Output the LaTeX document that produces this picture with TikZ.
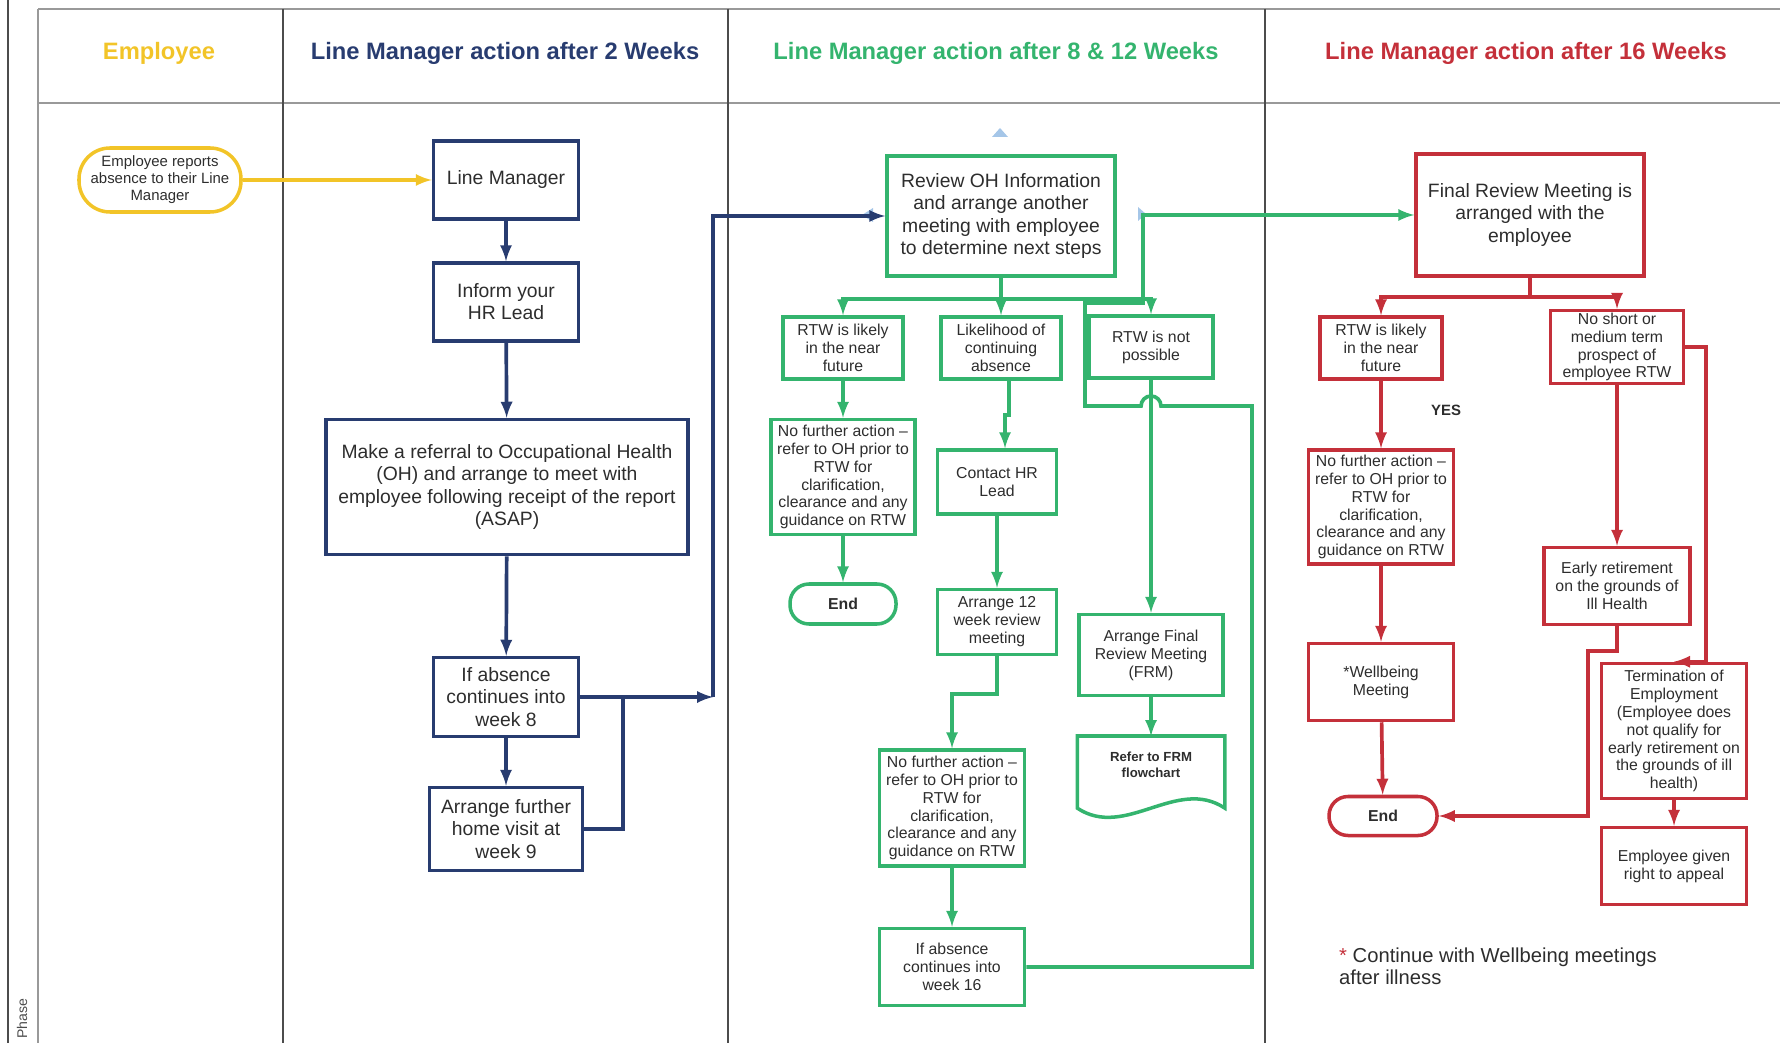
\documentclass[tikz,border=0pt]{standalone}
\usepackage{fontspec}
\setmainfont{Liberation Sans}
\usepackage{tikz}
\usepackage{xcolor}
\usetikzlibrary{calc}

\definecolor{navyc}{RGB}{40,60,112}
\definecolor{greenc}{RGB}{52,180,110}
\definecolor{redc}{RGB}{196,48,58}
\definecolor{goldc}{RGB}{242,196,40}
\definecolor{txtc}{RGB}{45,45,45}
\definecolor{handlec}{RGB}{165,198,232}

\begin{document}
\begin{tikzpicture}[x = 0.02cm, y = -0.02cm, >=latex,
        lane/.style = {draw = black!70, line width = 0.6pt},
        head/.style = {font = \fontsize{13.5}{16}\selectfont\bfseries},
        wh/.style 2 args = {minimum width = #1*0.02cm, minimum height = #2*0.02cm},
        box/.style = {rectangle, draw, line width = 2pt, align = center, inner sep = 0.5pt,
                      text = txtc, font = \fontsize{9}{10.2}\selectfont},
        bigbox/.style = {box, font = \fontsize{11}{12.6}\selectfont},
        endnode/.style = {box, rounded corners = 0.38cm, font = \fontsize{9}{10}\selectfont\bfseries},
        link/.style = {draw, line width = 2.1pt, ->}]
        \useasboundingbox (0, 0) rectangle (1780, 1043);

        % swim lanes
        \draw [lane] (8, 0) -- (8, 1043);
        \draw [lane, black!40] (38, 9) -- (38, 1043);
        \draw [lane, black!40] (38, 9) -- (1780, 9);
        \draw [lane, black!40] (38, 103) -- (1780, 103);
        \foreach \x in {283, 728, 1265}
            \draw [lane] (\x, 9) -- (\x, 1043);
        \node [rotate = 90, text = black!70, font = \fontsize{8}{9}\selectfont] (phase) at (22, 1019) {Phase};

        \node [head, text = goldc] (hemp) at (159, 53) {Employee};
        \node [head, text = navyc] (hlm2) at (505, 53) {Line Manager action after 2 Weeks};
        \node [head, text = greenc] (hlm8) at (996, 53) {Line Manager action after 8 \& 12 Weeks};
        \node [head, text = redc] (hlm16) at (1526, 53) {Line Manager action after 16 Weeks};

        % employee and 2 weeks
        \node [box, draw = goldc, rounded corners = 0.62cm, wh = {162}{64}, font = \fontsize{8.5}{9.6}\selectfont] (emp) at (160, 180) {Employee reports\\absence to their Line\\Manager};
        \node [bigbox, draw = navyc, wh = {145}{78}] (lm) at (506, 180) {Line Manager};
        \node [bigbox, draw = navyc, wh = {145}{78}] (hr) at (506, 302) {Inform your\\HR Lead};
        \node [bigbox, draw = navyc, wh = {362}{135}] (ref) at (507, 487) {Make a referral to Occupational Health\\(OH) and arrange to meet with\\employee following receipt of the report\\(ASAP)};
        \node [bigbox, draw = navyc, wh = {145}{79}] (if8) at (506, 697) {If absence\\continues into\\week 8};
        \node [bigbox, draw = navyc, wh = {153}{83}] (visit) at (506, 829) {Arrange further\\home visit at\\week 9};
        \coordinate (j1) at (713, 697);
        \coordinate (j2) at (623, 697);

        % 8 and 12 weeks
        \node [bigbox, draw = greenc, wh = {228}{120}] (review) at (1001, 216) {Review OH Information\\and arrange another\\meeting with employee\\to determine next steps};
        \node [box, draw = greenc, wh = {120}{62}] (rtwg) at (843, 348) {RTW is likely\\in the near\\future};
        \node [box, draw = greenc, wh = {120}{62}] (likely) at (1001, 348) {Likelihood of\\continuing\\absence};
        \node [box, draw = greenc, wh = {124}{62}] (notposs) at (1151, 347) {RTW is not\\possible};
        \node [box, draw = greenc, wh = {144}{115}] (nfa1) at (843, 477) {No further action –\\refer to OH prior to\\RTW for\\clarification,\\clearance and any\\guidance on RTW};
        \node [endnode, draw = greenc, wh = {106}{40}] (end1) at (843, 604) {End};
        \node [box, draw = greenc, wh = {119}{64}] (contact) at (997, 482) {Contact HR\\Lead};
        \node [box, draw = greenc, wh = {119}{65}] (arr12) at (997, 622) {Arrange 12\\week review\\meeting};
        \node [box, draw = greenc, wh = {145}{116}] (nfa2) at (952, 808) {No further action –\\refer to OH prior to\\RTW for\\clarification,\\clearance and any\\guidance on RTW};
        \node [box, draw = greenc, wh = {145}{77}] (wk16) at (952, 967) {If absence\\continues into\\week 16};
        \node [box, draw = greenc, wh = {144}{81}] (afrm) at (1151, 655) {Arrange Final\\Review Meeting\\(FRM)};
        \node [box, draw = none, wh = {144}{0}, inner ysep = 8pt, anchor = north,
               font = \fontsize{7.5}{9}\selectfont\bfseries] (frm) at (1151, 736) {Refer to FRM\\flowchart};
        \draw [greenc, line width = 2pt] (frm.north west) -- (frm.north east) -- ([yshift = -0.3cm] frm.south east)
            .. controls +(-48, -32) and +(48, 32) .. ([yshift = -0.3cm] frm.south west) -- cycle;
        \coordinate (gbus) at (1001, 299);
        \coordinate (lp1) at (1252, 406);
        \coordinate (lp2) at (1085, 406);
        \coordinate (lp3) at (1085, 303);
        \coordinate (lp4) at (1143, 303);

        % 16 weeks
        \node [bigbox, draw = redc, wh = {228}{122}] (final) at (1530, 215) {Final Review Meeting is\\arranged with the\\employee};
        \node [box, draw = redc, wh = {122}{62}] (rtwr) at (1381, 348) {RTW is likely\\in the near\\future};
        \node [box, draw = redc, wh = {133}{73}] (noshort) at (1617, 347) {No short or\\medium term\\prospect of\\employee RTW};
        \node [font = \fontsize{8.5}{10}\selectfont\bfseries, text = txtc] (yes) at (1446, 410) {YES};
        \node [box, draw = redc, wh = {145}{114}] (nfar) at (1381, 507) {No further action –\\refer to OH prior to\\RTW for\\clarification,\\clearance and any\\guidance on RTW};
        \node [box, draw = redc, wh = {145}{77}] (well) at (1381, 682) {*Wellbeing\\Meeting};
        \node [endnode, draw = redc, wh = {108}{39}] (endr) at (1383, 816) {End};
        \node [box, draw = redc, wh = {146}{77}] (early) at (1617, 586) {Early retirement\\on the grounds of\\Ill Health};
        \node [box, draw = redc, wh = {145}{135}] (term) at (1674, 731) {Termination of\\Employment\\(Employee does\\not qualify for\\early retirement on\\the grounds of ill\\health)};
        \node [box, draw = redc, wh = {145}{77}] (appeal) at (1674, 866) {Employee given\\right to appeal};
        \node [anchor = west, align = left, text = txtc, font = \fontsize{11.5}{12.6}\selectfont] (note) at (1333, 966)
            {\textcolor{redc}{*} Continue with Wellbeing meetings\\after illness};
        \coordinate (rbus) at (1530, 297);
        \coordinate (rj) at (1588, 816);

        % handles
        \fill [handlec] (992, 137) -- (1008, 137) -- (1000, 128) -- cycle;
        \fill [handlec] (862, 215) -- (873, 208) -- (873, 222) -- cycle;
        \fill [handlec] (1138, 207) -- (1146, 214) -- (1138, 221) -- cycle;

        % connectors
        \draw [link, goldc] (emp) -- (lm);
        \draw [link, navyc] (lm) -- (hr);
        \draw [link, navyc] (hr) -- (ref);
        \draw [link, navyc] (ref) -- (if8);
        \draw [link, navyc] (if8) -- (visit);
        \draw [link, navyc] (if8.east) -- (j1);
        \draw [link, navyc] (j1) |- (review.west);
        \draw [navyc, line width = 2.1pt] (visit.east) -| (j2);

        \draw [link, greenc] (review.south) -- (gbus) -| (rtwg.north);
        \draw [link, greenc] (gbus) -- (likely.north);
        \draw [link, greenc] (gbus) -| (notposs.north);
        \draw [link, greenc] (rtwg) -- (nfa1);
        \draw [link, greenc] (nfa1) -- (end1);
        \draw [link, greenc] ([xshift = 0.16cm] likely.south) -- ++(0, 34) -| ([xshift = 0.16cm] contact.north);
        \draw [link, greenc] (contact) -- (arr12);
        \draw [link, greenc] (arr12.south) -- ++(0, 38) -| (nfa2.north);
        \draw [link, greenc] (nfa2) -- (wk16);
        \draw [link, greenc] (notposs) -- (afrm);
        \draw [link, greenc] (afrm) -- (frm.north);
        \draw [link, greenc] (wk16.east) -| (lp1) -- ($(notposs.south |- lp1) + (10, 0)$)
            arc [start angle = 0, end angle = 180, radius = 0.2cm] -- (lp2) -- (lp3) -- (lp4) |- (final.west);

        \draw [link, redc] (final.south) -- (rbus) -| (rtwr.north);
        \draw [link, redc] (rbus) -| (noshort.north);
        \draw [link, redc] (rtwr) -- (nfar);
        \draw [link, redc] (nfar) -- (well);
        \draw [link, redc] (well) -- (endr);
        \draw [link, redc] (noshort) -- (early);
        \draw [link, redc] (noshort.east) -- ++(21, 0) |- (term.north);
        \draw [link, redc] (early.south) -- ++(0, 25) -| (rj) -- (endr.east);
        \draw [link, redc] (term) -- (appeal);
\end{tikzpicture}
\end{document}
